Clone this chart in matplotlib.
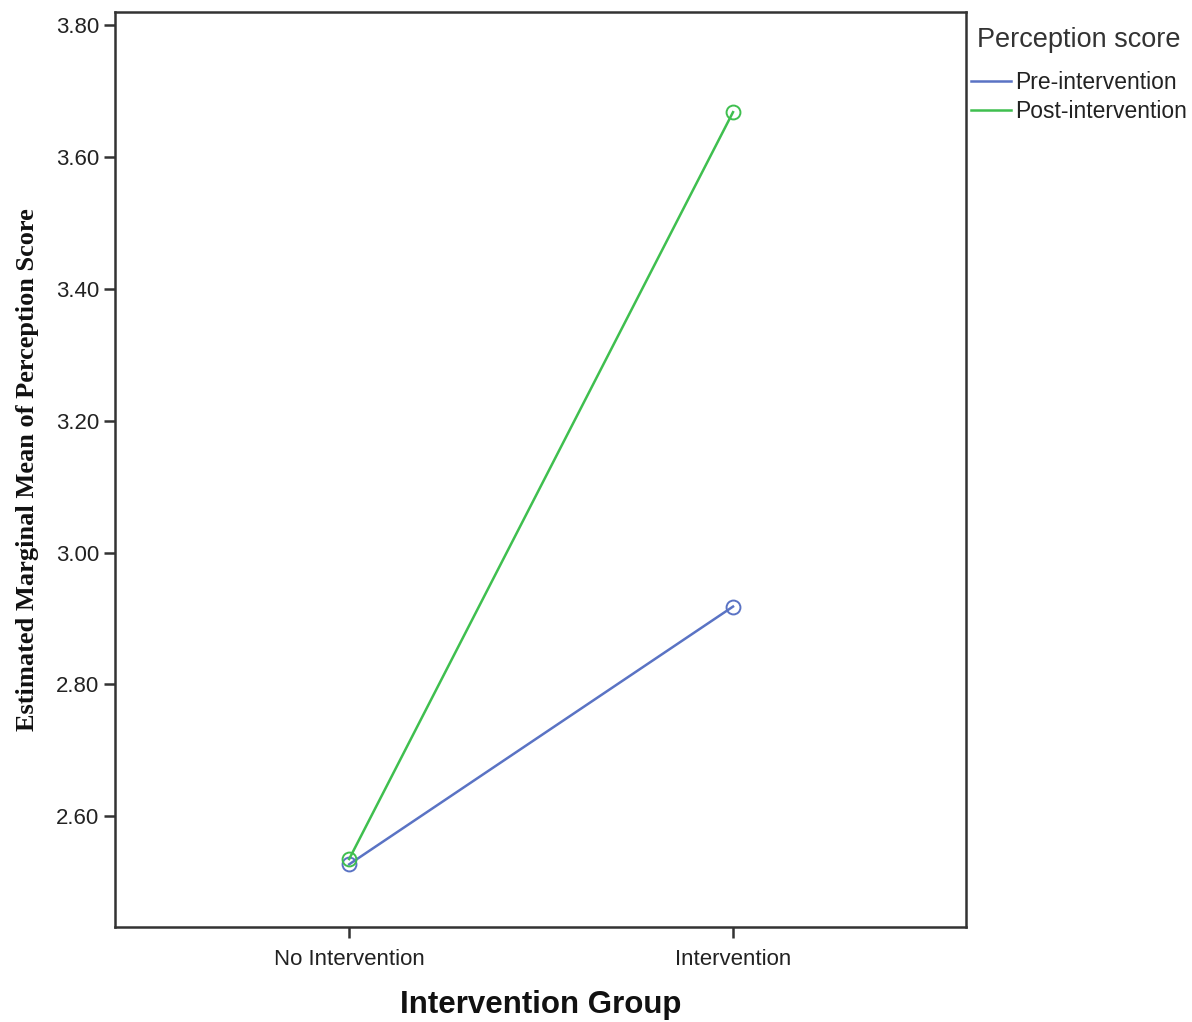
import numpy as np
import matplotlib.pyplot as plt

# estimated marginal means
groups = ["No Intervention", "Intervention"]
pre_scores = [2.527, 2.918]
post_scores = [2.535, 3.668]
series_names = ["Pre-intervention", "Post-intervention"]
y_ticks = [2.60, 2.80, 3.00, 3.20, 3.40, 3.60, 3.80]

plt.rcParams['font.family'] = ['Liberation Sans', 'DejaVu Sans']

fig = plt.figure(figsize=(11.92, 10.22), dpi=100)
ax = fig.add_axes([0.0965, 0.093, 0.7139, 0.8953])

x = np.arange(len(groups))
ax.plot(x, pre_scores, color='#5a73c4', lw=1.8, marker='o', ms=10,
        mfc='none', mew=1.4, label=series_names[0])
ax.plot(x, post_scores, color='#3fbf4f', lw=1.8, marker='o', ms=10,
        mfc='none', mew=1.4, label=series_names[1])

ax.set_xlim(-0.61, 1.607)
ax.set_ylim(2.432, 3.82)
ax.set_xticks(x)
ax.set_xticklabels(groups)
ax.set_yticks(y_ticks)
ax.set_yticklabels(["%.2f" % v for v in y_ticks])
ax.tick_params(axis='both', labelsize=16, length=8, width=1.8,
               color='#333333', labelcolor='#222222')
ax.tick_params(axis='x', pad=8)
for s in ax.spines.values():
    s.set_linewidth(1.8)
    s.set_color('#333333')

ax.set_xlabel("Intervention Group", fontsize=22.5, fontweight='bold',
              labelpad=14, color='#111111')
ax.set_ylabel("Estimated Marginal Mean of Perception Score", fontsize=19,
              fontweight='bold', family=['Liberation Serif', 'DejaVu Serif'],
              labelpad=12, color='#111111')

# legend title drawn separately so the gap to the entries matches
fig.text(977 / 1192, 1 - 40 / 1022, "Perception score", fontsize=19.5,
         color='#333333', ha='left', va='center')
leg = ax.legend(loc='upper left', bbox_to_anchor=(1.0, 0.940), frameon=False,
                fontsize=16.5, handlelength=1.75, handletextpad=0.2,
                labelspacing=0.26, borderaxespad=0, borderpad=0.2)
for t in leg.get_texts():
    t.set_color('#222222')
for h in leg.get_lines():
    h.set_marker('')

fig.savefig("out.png", dpi=100)
